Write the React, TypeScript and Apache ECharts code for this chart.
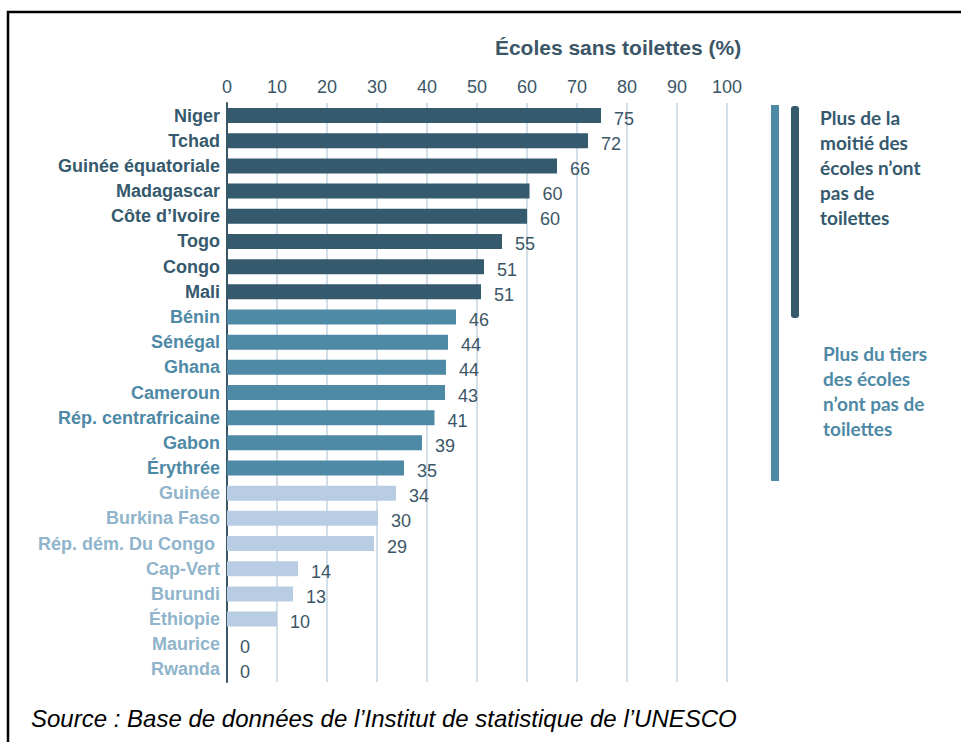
import React, { useEffect, useRef } from "react";
import * as echarts from "echarts";

const countries = [
  "Niger", "Tchad", "Guinée équatoriale", "Madagascar", "Côte d’Ivoire", "Togo", "Congo", "Mali",
  "Bénin", "Sénégal", "Ghana", "Cameroun", "Rép. centrafricaine", "Gabon", "Érythrée",
  "Guinée", "Burkina Faso", "Rép. dém. Du Congo ", "Cap-Vert", "Burundi", "Éthiopie", "Maurice", "Rwanda",
];
const values = [
  74.8, 72.2, 66, 60.5, 60, 55, 51.4, 50.8,
  45.8, 44.2, 43.8, 43.6, 41.5, 39, 35.4,
  33.8, 30.2, 29.4, 14.2, 13.2, 10, 0, 0,
];
const valueLabels = [
  "75", "72", "66", "60", "60", "55", "51", "51",
  "46", "44", "44", "43", "41", "39", "35",
  "34", "30", "29", "14", "13", "10", "0", "0",
];
const groups = [
  "half", "half", "half", "half", "half", "half", "half", "half",
  "third", "third", "third", "third", "third", "third", "third",
  "low", "low", "low", "low", "low", "low", "low", "low",
];
const xTicks = [0, 10, 20, 30, 40, 50, 60, 70, 80, 90, 100];
const axisTitle = "Écoles sans toilettes (%)";
const noteHalf = "Plus de la\nmoitié des\nécoles n’ont\npas de\ntoilettes";
const noteThird = "Plus du tiers\ndes écoles\nn’ont pas de\ntoilettes";
const sourceText = "Source : Base de données de l’Institut de statistique de l’UNESCO";

const barColors: Record<string, string> = { half: "#35596D", third: "#4E89A6", low: "#B8CDE4" };
const catColors: Record<string, string> = { half: "#35596D", third: "#4E89A6", low: "#8FB4CB" };
const ink = "#3B5667";
const sans = "'Liberation Sans', Arial, sans-serif";

export default function App() {
  const ref = useRef<HTMLDivElement>(null);
  useEffect(() => {
    document.body.style.margin = "0";
    const chart = echarts.init(ref.current!, undefined, { renderer: "svg" });
    chart.setOption({
      animation: false,
      backgroundColor: "#ffffff",
      grid: { left: 227, top: 103, width: 500, height: 579, containLabel: false },
      xAxis: {
        type: "value",
        position: "top",
        min: xTicks[0],
        max: xTicks[xTicks.length - 1],
        interval: 10,
        axisLine: { show: false },
        axisTick: { show: false },
        axisLabel: {
          color: ink,
          fontSize: 18,
          fontFamily: sans,
          margin: 7,
        },
        splitLine: { show: true, lineStyle: { color: "#D3DFE8", width: 2 } },
      },
      yAxis: {
        type: "category",
        inverse: true,
        data: countries.map((c, i) => ({ value: c, textStyle: { color: catColors[groups[i]] } })),
        axisLine: { show: true, lineStyle: { color: ink, width: 2 } },
        axisTick: { show: false },
        axisLabel: {
          fontSize: 18,
          fontWeight: "bold",
          fontFamily: sans,
          margin: 7,
        },
      },
      series: [
        {
          type: "bar",
          barWidth: 15,
          data: values.map((v, i) => ({ value: v, itemStyle: { color: barColors[groups[i]] } })),
          label: {
            show: true,
            position: "right",
            distance: 13,
            offset: [0, 3],
            formatter: (p: any) => valueLabels[p.dataIndex],
            color: ink,
            fontSize: 18,
            fontFamily: sans,
          },
        },
      ],
      graphic: [
        {
          type: "rect",
          shape: { x: 8, y: 12, width: 1200, height: 1200 },
          style: { fill: "none", stroke: "#000000", lineWidth: 2.5 },
          silent: true,
        },
        {
          type: "text",
          x: 618,
          y: 47,
          style: {
            text: axisTitle,
            fill: ink,
            font: "bold 21px 'Liberation Sans', Arial, sans-serif",
            textAlign: "center",
            textVerticalAlign: "middle",
          },
        },
        {
          type: "rect",
          shape: { x: 771, y: 105, width: 8, height: 376 },
          style: { fill: "#4E89A6" },
        },
        {
          type: "rect",
          shape: { x: 791, y: 106, width: 8, height: 212, r: 3 },
          style: { fill: "#35596D" },
        },
        {
          type: "text",
          x: 820,
          y: 105,
          style: {
            text: noteHalf,
            fill: "#35596D",
            font: "bold 19px Lato, 'Open Sans', sans-serif",
            lineHeight: 25,
            textAlign: "left",
            textVerticalAlign: "top",
          },
        },
        {
          type: "text",
          x: 823,
          y: 341,
          style: {
            text: noteThird,
            fill: "#4E89A6",
            font: "bold 19px Lato, 'Open Sans', sans-serif",
            lineHeight: 25,
            textAlign: "left",
            textVerticalAlign: "top",
          },
        },
        {
          type: "text",
          x: 31,
          y: 718,
          style: {
            text: sourceText,
            fill: "#000000",
            font: "italic 24px 'Liberation Sans', Arial, sans-serif",
            textAlign: "left",
            textVerticalAlign: "middle",
          },
        },
      ],
    });
    return () => chart.dispose();
  }, []);
  return <div ref={ref} style={{ width: 961, height: 742 }} />;
}
